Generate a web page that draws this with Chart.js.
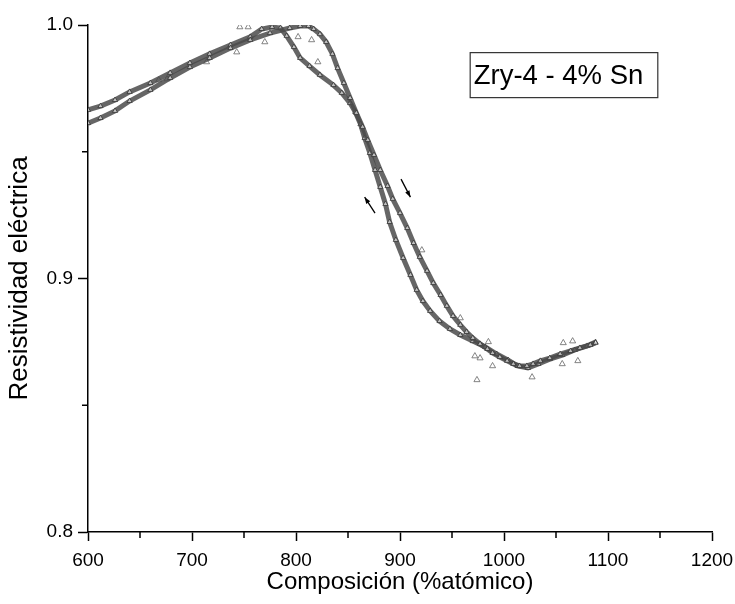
<!DOCTYPE html>
<html>
<head>
    <title>Resistividad eléctrica</title>
    <script src="https://cdn.jsdelivr.net/npm/chart.js@4.4.1/dist/chart.umd.min.js"></script>
    <style>
        html, body { margin: 0; padding: 0; background: #fff; }
        .chart-container { width: 735px; height: 604px; }
    </style>
</head>
<body>
    <div class="chart-container">
        <canvas id="rho-chart" width="735" height="604"></canvas>
    </div>

    <script>
        // calentamiento (rama derecha)
        const heatT = [600, 612, 626, 640, 660, 679, 698, 717, 737, 756, 775, 794, 804, 812, 817, 823, 829, 835, 840, 846,
            852, 858, 864, 869, 875, 881, 888, 893, 900, 907, 913, 919, 926, 932, 939, 945, 951, 958, 964, 970,
            977, 984, 989, 996, 1003, 1009, 1015, 1022, 1028, 1035, 1044, 1054, 1064, 1073, 1083, 1088];
        const heatR = [0.9613, 0.9633, 0.9661, 0.9700, 0.9744, 0.9791, 0.9834, 0.9870, 0.9909, 0.9941,
            0.9968, 0.9988, 0.9996, 0.9996, 0.9984, 0.9964, 0.9933, 0.9886, 0.9830, 0.9771,
            0.9712, 0.9653, 0.9598, 0.9546, 0.9487, 0.9428, 0.9365, 0.9314, 0.9258, 0.9199,
            0.9140, 0.9085, 0.9030, 0.8982, 0.8935, 0.8892, 0.8852, 0.8817, 0.8789, 0.8765,
            0.8742, 0.8722, 0.8706, 0.8690, 0.8675, 0.8663, 0.8655, 0.8655, 0.8663, 0.8675,
            0.8686, 0.8702, 0.8714, 0.8726, 0.8738, 0.8746];

        // enfriamiento (rama izquierda)
        const coolT = [600, 612, 626, 640, 660, 679, 698, 717, 737, 756, 767, 777, 785, 791, 798, 804, 813, 823, 836, 844,
            852, 857, 862, 866, 871, 876, 881, 886, 890, 896, 903, 910, 916, 922, 929, 938, 948, 958, 970, 982,
            993, 1004, 1013, 1023, 1033, 1044, 1056, 1068, 1080, 1088];
        const coolR = [0.9665, 0.9680, 0.9704, 0.9736, 0.9771, 0.9811, 0.9850, 0.9886, 0.9921, 0.9953,
            0.9984, 0.9992, 0.9988, 0.9957, 0.9913, 0.9870, 0.9838, 0.9803, 0.9763, 0.9732,
            0.9692, 0.9657, 0.9609, 0.9554, 0.9495, 0.9428, 0.9361, 0.9294, 0.9223, 0.9152,
            0.9081, 0.9014, 0.8955, 0.8911, 0.8872, 0.8832, 0.8801, 0.8777, 0.8753, 0.8730,
            0.8702, 0.8678, 0.8655, 0.8647, 0.8663, 0.8682, 0.8698, 0.8718, 0.8734, 0.8749];

        // puntos dispersos
        const outT = [668, 676, 714, 743, 746, 754, 770, 802, 815, 821, 921, 958, 972, 974, 977, 985, 989, 1027, 1056, 1057, 1066, 1071];
        const outR = [0.9783, 0.9787, 0.9854, 0.9893, 0.9992, 0.9992, 0.9933, 0.9953, 0.9941, 0.9854, 0.9112, 0.8844,
            0.8694, 0.8600, 0.8686, 0.8750, 0.8655, 0.8611, 0.8663, 0.8746, 0.8753, 0.8675];

        const minorX = [650, 750, 850, 950, 1050, 1150];
        const minorY = [0.85, 0.95];

        // flechas [x0, y0, x1, y1] (punta en x1, y1)
        const arrows = [
            [901, 0.9392, 910, 0.9321],
            [876, 0.9258, 866, 0.9321]
        ];
        const boxLabel = 'Zry-4 - 4% Sn';

        const toXY = (xs, ys) => xs.map((x, i) => ({ x: x, y: ys[i] }));

        const extras = {
            id: 'extras',
            afterDraw(chart) {
                const { ctx, scales: { x, y } } = chart;
                ctx.save();
                ctx.strokeStyle = '#000';
                ctx.lineWidth = 1.5;
                minorX.forEach(v => {
                    const px = x.getPixelForValue(v);
                    ctx.beginPath();
                    ctx.moveTo(px, y.bottom);
                    ctx.lineTo(px, y.bottom + 6);
                    ctx.stroke();
                });
                minorY.forEach(v => {
                    const py = y.getPixelForValue(v);
                    ctx.beginPath();
                    ctx.moveTo(x.left, py);
                    ctx.lineTo(x.left - 6, py);
                    ctx.stroke();
                });

                // flechas
                ctx.fillStyle = '#000';
                ctx.lineWidth = 1.3;
                arrows.forEach(a => {
                    const x0 = x.getPixelForValue(a[0]), y0 = y.getPixelForValue(a[1]);
                    const x1 = x.getPixelForValue(a[2]), y1 = y.getPixelForValue(a[3]);
                    const ang = Math.atan2(y1 - y0, x1 - x0);
                    ctx.beginPath();
                    ctx.moveTo(x0, y0);
                    ctx.lineTo(x1, y1);
                    ctx.stroke();
                    ctx.beginPath();
                    ctx.moveTo(x1, y1);
                    ctx.lineTo(x1 - 7 * Math.cos(ang - 0.35), y1 - 7 * Math.sin(ang - 0.35));
                    ctx.lineTo(x1 - 7 * Math.cos(ang + 0.35), y1 - 7 * Math.sin(ang + 0.35));
                    ctx.closePath();
                    ctx.fill();
                });

                // recuadro de texto
                ctx.font = '27.5px "Liberation Sans", Arial, sans-serif';
                ctx.textBaseline = 'alphabetic';
                const bx = x.getPixelForValue(967), by = y.getPixelForValue(0.9893);
                const tw = ctx.measureText(boxLabel).width;
                ctx.lineWidth = 1.2;
                ctx.strokeStyle = '#333';
                ctx.strokeRect(bx + 0.5, by + 0.5, tw + 18, 45);
                ctx.fillStyle = '#000';
                ctx.fillText(boxLabel, bx + 4, by + 32);
                ctx.restore();
            }
        };

        const font = { family: '"Liberation Sans", Arial, sans-serif' };

        new Chart(document.getElementById('rho-chart'), {
            type: 'scatter',
            data: {
                datasets: [{
                    label: 'calentamiento',
                    data: toXY(heatT, heatR),
                    showLine: true,
                    borderColor: 'rgba(75, 75, 75, 0.85)',
                    borderWidth: 5,
                    pointStyle: 'triangle',
                    pointRadius: 3,
                    pointBorderColor: '#333',
                    pointBorderWidth: 0.8,
                    pointBackgroundColor: 'rgba(255,255,255,0.6)'
                }, {
                    label: 'enfriamiento',
                    data: toXY(coolT, coolR),
                    showLine: true,
                    borderColor: 'rgba(75, 75, 75, 0.85)',
                    borderWidth: 5,
                    pointStyle: 'triangle',
                    pointRadius: 3,
                    pointBorderColor: '#333',
                    pointBorderWidth: 0.8,
                    pointBackgroundColor: 'rgba(255,255,255,0.6)'
                }, {
                    label: 'dispersos',
                    data: toXY(outT, outR),
                    pointStyle: 'triangle',
                    pointRadius: 3.5,
                    pointBorderColor: '#666',
                    pointBorderWidth: 0.8,
                    pointBackgroundColor: 'rgba(255,255,255,0)'
                }]
            },
            options: {
                responsive: false,
                animation: false,
                layout: { padding: { top: 25, right: 23, left: 0, bottom: 0 } },
                scales: {
                    x: {
                        type: 'linear',
                        min: 600,
                        max: 1200,
                        afterFit: s => {
                            s.height = 72;
                            s.paddingLeft = 0;
                            s.paddingRight = 0;
                        },
                        ticks: {
                            stepSize: 100,
                            color: '#000',
                            font: { ...font, size: 19 },
                            padding: 8,
                            callback: v => String(v)
                        },
                        grid: { drawOnChartArea: false, tickLength: 9, tickColor: '#000', tickWidth: 1.5 },
                        border: { color: '#000', width: 1.5 },
                        title: {
                            display: true,
                            text: 'Composición (%atómico)',
                            color: '#000',
                            font: { ...font, size: 24 },
                            padding: { top: 4, bottom: 7 }
                        }
                    },
                    y: {
                        min: 0.8,
                        max: 1.0,
                        afterFit: s => {
                            s.width = 88;
                            s.paddingTop = 0;
                            s.paddingBottom = 0;
                        },
                        ticks: {
                            stepSize: 0.1,
                            color: '#000',
                            font: { ...font, size: 19 },
                            padding: 5,
                            callback: v => v.toFixed(1)
                        },
                        grid: { drawOnChartArea: false, tickLength: 10, tickColor: '#000', tickWidth: 1.5 },
                        border: { color: '#000', width: 1.5 },
                        title: {
                            display: true,
                            text: 'Resistividad eléctrica',
                            color: '#000',
                            font: { ...font, size: 26 },
                            padding: { top: 4, bottom: 4 }
                        }
                    }
                },
                plugins: {
                    legend: { display: false },
                    tooltip: { enabled: false }
                }
            },
            plugins: [extras]
        });
    </script>
</body>
</html>
